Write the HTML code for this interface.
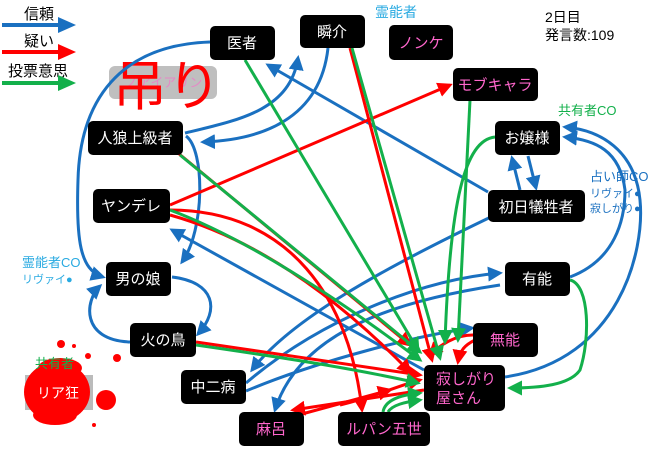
<!DOCTYPE html>
<html><head><meta charset="utf-8"><style>
html,body{margin:0;padding:0;background:#fff;}
svg{display:block;}
text{font-family:"Liberation Sans","Noto Sans CJK JP",sans-serif;}
</style></head><body>
<svg width="660" height="449" viewBox="0 0 660 449" xmlns="http://www.w3.org/2000/svg">
<defs>
<marker id="b" markerWidth="5" markerHeight="5" refX="4" refY="2.5" orient="auto" markerUnits="strokeWidth"><path d="M0,0 L5,2.5 L0,5 z" fill="#1a70c0"/></marker>
<marker id="r" markerWidth="5" markerHeight="5" refX="4" refY="2.5" orient="auto" markerUnits="strokeWidth"><path d="M0,0 L5,2.5 L0,5 z" fill="#ff0000"/></marker>
<marker id="g" markerWidth="5" markerHeight="5" refX="4" refY="2.5" orient="auto" markerUnits="strokeWidth"><path d="M0,0 L5,2.5 L0,5 z" fill="#13b04b"/></marker>
</defs>

<text x="24" y="19" font-size="15" fill="#000">信頼</text>
<line x1="2" y1="25" x2="62" y2="25" stroke="#1a70c0" stroke-width="4"/><path d="M58,17 L76,25 L58,33z" fill="#1a70c0"/>
<text x="24" y="46" font-size="15" fill="#000">疑い</text>
<line x1="2" y1="52" x2="62" y2="52" stroke="#ff0000" stroke-width="4"/><path d="M58,44 L76,52 L58,60z" fill="#ff0000"/>
<text x="8" y="76" font-size="15" fill="#000">投票意思</text>
<line x1="2" y1="83" x2="62" y2="83" stroke="#13b04b" stroke-width="4"/><path d="M58,75 L76,83 L58,91z" fill="#13b04b"/>

<text x="545" y="22" font-size="14" fill="#000">2日目</text>
<text x="545" y="40" font-size="14" fill="#000">発言数:109</text>

<rect x="109" y="66" width="108" height="33" rx="6" fill="#bfbfbf"/>
<text x="125" y="87" font-size="13" fill="#ff66cc" opacity="0.6">ノアイアリン</text>
<text x="113" y="105" font-size="54" fill="#ff0000">吊り</text>

<g fill="none" stroke-width="3">
<path d="M210,42 C120,45 80,100 78,180 C76,240 80,270 103,277" stroke="#1a70c0" marker-end="url(#b)"/>
<path d="M185,133 C240,120 290,110 298,58" stroke="#1a70c0" marker-end="url(#b)"/>
<path d="M328,48 C320,120 260,140 203,142" stroke="#1a70c0" marker-end="url(#b)"/>
<path d="M186,136 C205,150 205,230 182,262" stroke="#1a70c0" marker-end="url(#b)"/>
<path d="M488,192 L268,65" stroke="#1a70c0" marker-end="url(#b)"/>
<path d="M520,190 L512,158" stroke="#1a70c0" marker-end="url(#b)"/>
<path d="M528,156 L536,188" stroke="#1a70c0" marker-end="url(#b)"/>
<path d="M172,277 C215,282 220,310 198,334" stroke="#1a70c0" marker-end="url(#b)"/>
<path d="M130,342 C80,340 85,300 100,286" stroke="#1a70c0" marker-end="url(#b)"/>
<path d="M505,377 C620,360 645,250 640,200 C635,150 600,130 565,127" stroke="#1a70c0" marker-end="url(#b)"/>
<path d="M570,277 C615,260 625,220 625,190 C620,150 595,140 565,137" stroke="#1a70c0" marker-end="url(#b)"/>
<path d="M246,383 C320,320 420,280 500,273" stroke="#1a70c0" marker-end="url(#b)"/>
<path d="M246,391 C320,360 420,335 472,328" stroke="#1a70c0" marker-end="url(#b)"/>
<path d="M424,370 L172,230" stroke="#1a70c0" marker-end="url(#b)"/>
<path d="M495,215 C380,270 290,320 252,370" stroke="#1a70c0" marker-end="url(#b)"/>
<path d="M500,285 C400,300 300,330 275,410" stroke="#1a70c0" marker-end="url(#b)"/>
<path d="M170,205 L450,85" stroke="#ff0000" marker-end="url(#r)"/>
<path d="M178,153 L410,345" stroke="#ff0000" marker-end="url(#r)"/>
<path d="M170,210 C290,210 350,300 362,410" stroke="#ff0000" marker-end="url(#r)"/>
<path d="M170,215 C260,240 340,300 410,372" stroke="#ff0000" marker-end="url(#r)"/>
<path d="M350,48 L432,360" stroke="#ff0000" marker-end="url(#r)"/>
<path d="M196,342 L420,375" stroke="#ff0000" marker-end="url(#r)"/>
<path d="M424,390 L293,410" stroke="#ff0000" marker-end="url(#r)"/>
<path d="M280,420 L390,390" stroke="#ff0000" marker-end="url(#r)"/>
<path d="M340,405 C380,395 400,385 420,380" stroke="#ff0000" marker-end="url(#r)"/>
<path d="M473,335 C455,335 440,345 430,355" stroke="#ff0000" marker-end="url(#r)"/>
<path d="M475,340 C465,345 460,350 458,362" stroke="#ff0000" marker-end="url(#r)"/>
<path d="M245,60 L418,350" stroke="#13b04b" marker-end="url(#g)"/>
<path d="M352,48 L440,358" stroke="#13b04b" marker-end="url(#g)"/>
<path d="M470,100 L458,340" stroke="#13b04b" marker-end="url(#g)"/>
<path d="M495,137 C465,140 450,200 445,342" stroke="#13b04b" marker-end="url(#g)"/>
<path d="M180,155 L420,352" stroke="#13b04b" marker-end="url(#g)"/>
<path d="M170,210 C250,240 340,300 420,360" stroke="#13b04b" marker-end="url(#g)"/>
<path d="M196,345 C300,360 360,370 418,383" stroke="#13b04b" marker-end="url(#g)"/>
<path d="M570,280 C590,285 590,340 580,370 C570,385 540,388 510,388" stroke="#13b04b" marker-end="url(#g)"/>
<path d="M383,412 C385,400 400,395 420,393" stroke="#13b04b" marker-end="url(#g)"/>
<path d="M388,412 C392,405 405,402 420,400" stroke="#13b04b" marker-end="url(#g)"/>
</g>

<g font-size="15" text-anchor="middle">
<rect x="210" y="26" width="65" height="34" rx="5" fill="#000"/><text x="242" y="48" fill="#fff">医者</text>
<rect x="300" y="15" width="65" height="33" rx="5" fill="#000"/><text x="332" y="37" fill="#fff">瞬介</text>
<rect x="389" y="25" width="64" height="35" rx="5" fill="#000"/><text x="421" y="48" fill="#ff66cc">ノンケ</text>
<rect x="453" y="68" width="85" height="33" rx="5" fill="#000"/><text x="495" y="90" fill="#ff66cc">モブキャラ</text>
<rect x="495" y="121" width="65" height="34" rx="5" fill="#000"/><text x="527" y="143" fill="#fff">お嬢様</text>
<rect x="488" y="190" width="97" height="32" rx="5" fill="#000"/><text x="536" y="212" fill="#fff">初日犠牲者</text>
<rect x="88" y="121" width="95" height="34" rx="5" fill="#000"/><text x="135" y="143" fill="#fff">人狼上級者</text>
<rect x="93" y="189" width="77" height="34" rx="5" fill="#000"/><text x="131" y="211" fill="#fff">ヤンデレ</text>
<rect x="106" y="262" width="65" height="34" rx="5" fill="#000"/><text x="138" y="284" fill="#fff">男の娘</text>
<rect x="130" y="323" width="66" height="34" rx="5" fill="#000"/><text x="163" y="345" fill="#fff">火の鳥</text>
<rect x="181" y="370" width="65" height="34" rx="5" fill="#000"/><text x="213" y="392" fill="#fff">中二病</text>
<rect x="239" y="412" width="65" height="34" rx="5" fill="#000"/><text x="271" y="434" fill="#ff66cc">麻呂</text>
<rect x="338" y="412" width="92" height="34" rx="5" fill="#000"/><text x="384" y="434" fill="#ff66cc">ルパン五世</text>
<rect x="424" y="365" width="81" height="46" rx="5" fill="#000"/><text x="436" y="384" fill="#ff66cc" text-anchor="start">寂しがり</text><text x="436" y="403" fill="#ff66cc" text-anchor="start">屋さん</text>
<rect x="473" y="323" width="65" height="34" rx="5" fill="#000"/><text x="505" y="345" fill="#ff66cc">無能</text>
<rect x="505" y="262" width="65" height="34" rx="5" fill="#000"/><text x="537" y="284" fill="#fff">有能</text>
</g>

<text x="375" y="17" font-size="14" fill="#29aae1">霊能者</text>
<text x="558" y="115" font-size="13" fill="#13b04b">共有者CO</text>
<text x="590" y="181" font-size="13" fill="#1a70c0">占い師CO</text>
<text x="590" y="197" font-size="11" fill="#1a70c0">リヴァイ●</text>
<text x="590" y="212" font-size="11" fill="#1a70c0">寂しがり●</text>
<text x="22" y="267" font-size="13" fill="#29aae1">霊能者CO</text>
<text x="22" y="283" font-size="11" fill="#29aae1">リヴァイ●</text>

<rect x="25" y="375" width="68" height="35" fill="#bbb"/>
<ellipse cx="57" cy="392" rx="33" ry="30" fill="#ff0000"/>
<ellipse cx="60" cy="368" rx="22" ry="10" fill="#ff0000"/>
<ellipse cx="55" cy="415" rx="22" ry="10" fill="#ff0000"/>
<circle cx="106" cy="400" r="10" fill="#ff0000"/>
<circle cx="61" cy="344" r="4" fill="#ff0000"/>
<circle cx="117" cy="358" r="4" fill="#ff0000"/>
<circle cx="88" cy="356" r="3" fill="#ff0000"/>
<circle cx="74" cy="346" r="2" fill="#ff0000"/>
<circle cx="94" cy="425" r="2" fill="#ff0000"/>
<text x="35" y="368" font-size="13" fill="#13b04b">共有者</text>
<text x="58" y="398" font-size="14" fill="#fff" text-anchor="middle">リア狂</text>
</svg>
</body></html>
